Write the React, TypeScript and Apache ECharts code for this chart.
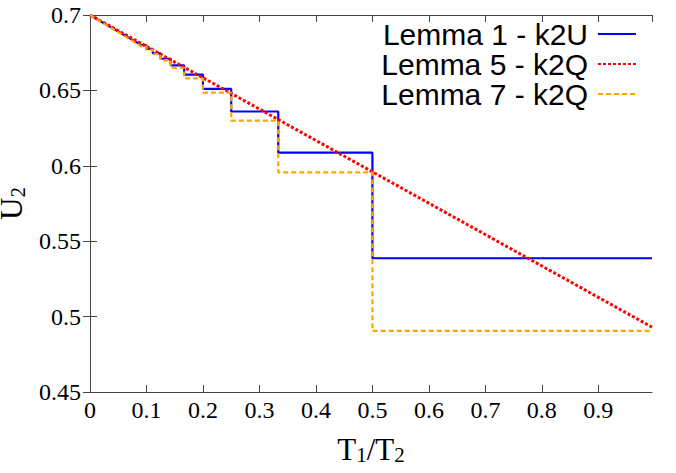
import React, { useEffect, useRef } from "react";
import * as echarts from "echarts";

const X_MAX = 0.995;
const xTicks = [0, 0.1, 0.2, 0.3, 0.4, 0.5, 0.6, 0.7, 0.8, 0.9];
const yTicks = [0.45, 0.5, 0.55, 0.6, 0.65, 0.7];

// step segments: [left x, right x]
const segLeft = [0.5, 0.3333, 0.25, 0.2, 0.1667, 0.1429, 0.125, 0.1111, 0.1, 0.0909];
const segRight = [0.995, 0.5, 0.3333, 0.25, 0.2, 0.1667, 0.1429, 0.125, 0.1111, 0.1];

const lemma1Vals = [0.5387, 0.6087, 0.636, 0.651, 0.6604, 0.6666, 0.671, 0.6746, 0.6775, 0.68];
const lemma7Vals = [0.4905, 0.5957, 0.6299, 0.6485, 0.658, 0.665, 0.6699, 0.674, 0.6769, 0.6792];

const lemma5X = [0, 0.5, 0.995];
const lemma5Y = [0.7, 0.596, 0.493];

function stepPoints(vals: number[]) {
  const pts: number[][] = [[0, 0.7]];
  for (let i = vals.length - 1; i >= 0; i--) {
    pts.push([segLeft[i], vals[i]]);
    pts.push([segRight[i], vals[i]]);
  }
  return pts;
}

export default function App() {
  const ref = useRef<HTMLDivElement>(null);
  useEffect(() => {
    if (!ref.current) return;
    const chart = echarts.init(ref.current, null, { renderer: "svg" });
    const axisColor = "#444";
    const serif = "Liberation Serif";
    const baseX = {
      type: "value" as const,
      min: 0,
      max: X_MAX,
      interval: 0.1,
      splitLine: { show: false },
      axisLine: { show: true, lineStyle: { color: axisColor, width: 1 } },
      axisTick: { show: true, inside: true, length: 7, lineStyle: { color: axisColor } },
    };
    const baseY = {
      type: "value" as const,
      min: 0.45,
      max: 0.7,
      interval: 0.05,
      splitLine: { show: false },
      axisLine: { show: true, lineStyle: { color: axisColor, width: 1 } },
      axisTick: { show: true, inside: true, length: 7, lineStyle: { color: axisColor } },
    };
    const nameRich = {
      n: { fontFamily: serif, fontSize: 31, color: "#000", lineHeight: 32, verticalAlign: "top" },
      s: { fontFamily: serif, fontSize: 21, color: "#000", lineHeight: 22, padding: [18, 0, 0, 0], verticalAlign: "bottom" },
    };
    chart.setOption({
      animation: false,
      backgroundColor: "#fff",
      grid: { left: 90, right: 24, top: 15, bottom: 81, containLabel: false, outerBoundsMode: "none" },
      legend: {
        orient: "vertical",
        align: "right",
        right: 34,
        top: 14,
        itemWidth: 38,
        itemHeight: 14,
        itemGap: 0,
        itemStyle: { opacity: 0 },
        textStyle: { fontFamily: "Liberation Sans", fontSize: 30, color: "#000", lineHeight: 26, padding: [0, 5, 0, 0] },
        data: ["Lemma 1 - k2U", "Lemma 5 - k2Q", "Lemma 7 - k2Q"],
      },
      xAxis: [
        {
          ...baseX,
          position: "bottom",
          name: "{n|T}{s|1}{n|/T}{s|2}",
          nameLocation: "middle",
          nameGap: 22,
          nameTextStyle: { rich: nameRich },
          axisLabel: {
            show: true,
            showMaxLabel: false,
            margin: 6,
            fontFamily: serif,
            fontSize: 24,
            color: "#000",
            formatter: (v: number) => String(Math.round(v * 10) / 10),
          },
        },
        {
          ...baseX,
          position: "top",
          axisLabel: { show: false },
        },
      ],
      yAxis: [
        {
          ...baseY,
          position: "left",
          name: "{n|U}{s|2}",
          nameLocation: "middle",
          nameGap: 62,
          nameMoveOverlap: false,
          nameRotate: 90,
          nameTextStyle: { rich: nameRich },
          axisLabel: {
            show: true,
            margin: 9,
            fontFamily: serif,
            fontSize: 24,
            color: "#000",
            formatter: (v: number) => String(Math.round(v * 100) / 100),
          },
        },
        {
          ...baseY,
          position: "right",
          axisLabel: { show: false },
        },
      ],
      series: [
        {
          name: "Lemma 1 - k2U",
          type: "line",
          symbol: "none",
          data: stepPoints(lemma1Vals),
          lineStyle: { color: "#0000ff", width: 2.2, type: "solid" },
          itemStyle: { color: "#0000ff" },
        },
        {
          name: "Lemma 5 - k2Q",
          type: "line",
          symbol: "none",
          data: lemma5X.map((x, i) => [x, lemma5Y[i]]),
          lineStyle: { color: "#ff0000", width: 3, type: [3, 2] },
          itemStyle: { color: "#ff0000" },
        },
        {
          name: "Lemma 7 - k2Q",
          type: "line",
          symbol: "none",
          data: stepPoints(lemma7Vals),
          lineStyle: { color: "#ffa500", width: 2.2, type: [5, 3] },
          itemStyle: { color: "#ffa500" },
        },
      ],
    });
    return () => chart.dispose();
  }, []);
  return <div ref={ref} style={{ position: "absolute", left: 0, top: 0, width: 676, height: 473 }} />;
}
